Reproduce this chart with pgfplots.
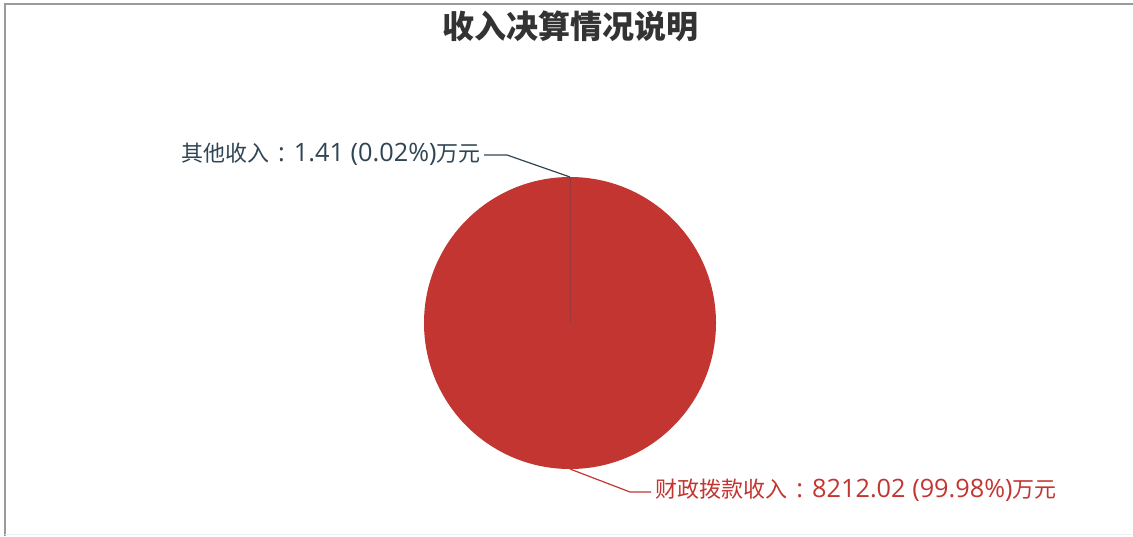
\documentclass[border=0pt]{standalone}
\usepackage{fontspec}
\setmainfont{Open Sans}[Scale=1.15]
\newfontfamily\cjk{Noto Sans CJK SC}
\usepackage{pgfplots}
\pgfplotsset{compat=1.18}
\definecolor{pieRed}{HTML}{C23531}
\definecolor{pieDark}{HTML}{2F4554}
\definecolor{titleGray}{HTML}{333333}
\definecolor{frameGray}{HTML}{9A9A9A}
\begin{document}
\begin{tikzpicture}
\pgfmathsetmacro{\vA}{8212.02}
\pgfmathsetmacro{\vB}{1.41}
\pgfmathsetmacro{\angB}{360*\vB/(\vA+\vB)}
\pgfmathsetmacro{\split}{90+\angB}
\begin{axis}[
  width=566.5pt, height=268pt, scale only axis,
  xmin=0, xmax=1133, ymin=0, ymax=536, y dir=reverse,
  hide axis, clip=false,
]
\coordinate (bbl) at (axis cs:0,536);
\coordinate (btr) at (axis cs:1133,0);
% frame
\draw[frameGray, line width=1pt] (axis cs:5,536) -- (axis cs:5,4) -- (axis cs:1133,4);
\draw[black!6, line width=0.6pt] (axis cs:5,534.5) -- (axis cs:1133,534.5);
% pie
\fill[pieRed] (axis cs:570,323) -- ++(\split:73pt) arc[start angle=\split, end angle=450, radius=73pt] -- cycle;
\fill[pieDark] (axis cs:570,323) -- ++(90:73pt) arc[start angle=90, end angle=\split, radius=73pt] -- cycle;
\draw[pieDark, line width=0.25pt, opacity=0.12] (axis cs:570,323) -- ++(90:73pt);
% leader lines
\addplot[pieDark, line width=0.6pt, no marks] coordinates {(570,177) (507,155) (484,155)};
\addplot[pieRed, line width=0.6pt, no marks] coordinates {(570,469) (630,492) (651,492)};
% labels
\node[anchor=east, text=pieDark, font=\fontsize{11}{13}\selectfont, inner sep=0pt] at (axis cs:481,154) {{\cjk 其他收入}\hspace{4.5pt}:\hspace{4.5pt}1.41 (0.02\%){\cjk 万元}};
\node[anchor=west, text=pieRed, font=\fontsize{11}{13}\selectfont, inner sep=0pt] at (axis cs:655,490) {{\cjk 财政拨款收入}\hspace{4.5pt}:\hspace{4.5pt}8212.02 (99.98\%){\cjk 万元}};
% title
\node[text=titleGray, font=\fontsize{16}{19}\selectfont\cjk\bfseries, inner sep=0pt] at (axis cs:570,26) {收入决算情况说明};
\end{axis}
\pgfresetboundingbox
\useasboundingbox (bbl) rectangle (btr);
\end{tikzpicture}
\end{document}
